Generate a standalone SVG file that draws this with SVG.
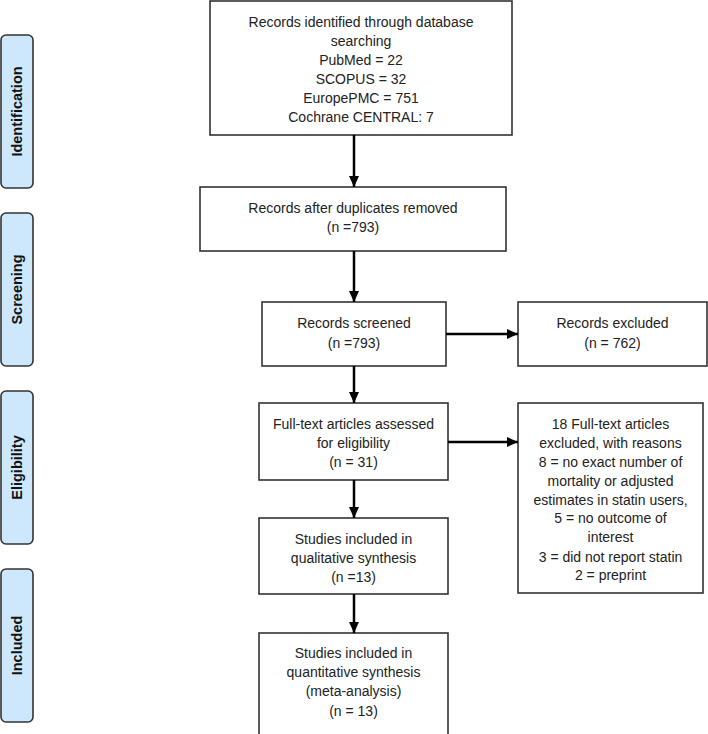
<svg xmlns="http://www.w3.org/2000/svg" width="708" height="734" viewBox="0 0 708 734">
<defs>
<style>
.box{fill:#fff;stroke:#333;stroke-width:1.6}
.phase{fill:#cde8fc;stroke:#333;stroke-width:1.6}
.t{font-family:"Liberation Sans",Arial,sans-serif;font-size:14px;fill:#222;text-anchor:middle}
.pt{font-family:"Liberation Sans",Arial,sans-serif;font-size:14.5px;font-weight:bold;fill:#111;text-anchor:middle}
.conn{stroke:#000;stroke-width:2.5;fill:none;marker-end:url(#ah)}
</style>
<marker id="ah" markerUnits="userSpaceOnUse" markerWidth="12" markerHeight="10" refX="11" refY="5" orient="auto">
<path d="M0,0 L11,5 L0,10 Z" fill="#000"/>
</marker>
</defs>
<rect width="708" height="734" fill="#fff"/>

<g id="phase-identification"><rect class="phase" x="1" y="35" width="32" height="153" rx="5"/><text class="pt" transform="translate(22,111.5) rotate(-90)">Identification</text></g>
<g id="phase-screening"><rect class="phase" x="1" y="213" width="32" height="153" rx="5"/><text class="pt" transform="translate(22,289.5) rotate(-90)">Screening</text></g>
<g id="phase-eligibility"><rect class="phase" x="1" y="391" width="32" height="153" rx="5"/><text class="pt" transform="translate(22,467.5) rotate(-90)">Eligibility</text></g>
<g id="phase-included"><rect class="phase" x="1" y="569" width="32" height="153" rx="5"/><text class="pt" transform="translate(22,645.5) rotate(-90)">Included</text></g>

<g id="identified"><rect class="box" x="210" y="1" width="302" height="134"/>
<text class="t" x="361" y="27">Records identified through database</text>
<text class="t" x="361" y="46">searching</text>
<text class="t" x="361" y="65">PubMed = 22</text>
<text class="t" x="361" y="84">SCOPUS = 32</text>
<text class="t" x="361" y="103">EuropePMC = 751</text>
<text class="t" x="361" y="122">Cochrane CENTRAL: 7</text></g>

<g id="duplicates"><rect class="box" x="200" y="187" width="306" height="64"/>
<text class="t" x="353" y="213">Records after duplicates removed</text>
<text class="t" x="353" y="232">(n =793)</text></g>

<g id="screened"><rect class="box" x="262" y="302" width="184" height="64"/>
<text class="t" x="354" y="328">Records screened</text>
<text class="t" x="354" y="348">(n =793)</text></g>

<g id="excluded"><rect class="box" x="518" y="302" width="189" height="64"/>
<text class="t" x="612.5" y="328">Records excluded</text>
<text class="t" x="612.5" y="348">(n = 762)</text></g>

<g id="fulltext"><rect class="box" x="259" y="403" width="189" height="77"/>
<text class="t" x="353.5" y="429">Full-text articles assessed</text>
<text class="t" x="353.5" y="448">for eligibility</text>
<text class="t" x="353.5" y="467">(n = 31)</text></g>

<g id="fulltext-excluded"><rect class="box" x="518" y="403" width="185" height="190"/>
<text class="t" x="610.5" y="429">18 Full-text articles</text>
<text class="t" x="610.5" y="448">excluded, with reasons</text>
<text class="t" x="610.5" y="467">8 = no exact number of</text>
<text class="t" x="610.5" y="486">mortality or adjusted</text>
<text class="t" x="610.5" y="505">estimates in statin users,</text>
<text class="t" x="610.5" y="523">5 = no outcome of</text>
<text class="t" x="610.5" y="542">interest</text>
<text class="t" x="610.5" y="562">3 = did not report statin</text>
<text class="t" x="610.5" y="580">2 = preprint</text></g>

<g id="qualitative"><rect class="box" x="259" y="518" width="189" height="76"/>
<text class="t" x="353.5" y="544">Studies included in</text>
<text class="t" x="353.5" y="563">qualitative synthesis</text>
<text class="t" x="353.5" y="582">(n =13)</text></g>

<g id="quantitative"><rect class="box" x="259" y="633" width="189" height="110"/>
<text class="t" x="353.5" y="658">Studies included in</text>
<text class="t" x="353.5" y="677">quantitative synthesis</text>
<text class="t" x="353.5" y="696">(meta-analysis)</text>
<text class="t" x="353.5" y="716">(n = 13)</text></g>

<g id="connectors">
<line class="conn" x1="354" y1="135" x2="354" y2="187"/>
<line class="conn" x1="354" y1="251" x2="354" y2="302"/>
<line class="conn" x1="354" y1="366" x2="354" y2="403"/>
<line class="conn" x1="354" y1="480" x2="354" y2="518"/>
<line class="conn" x1="354" y1="594" x2="354" y2="633"/>
<line class="conn" x1="446" y1="334" x2="518" y2="334"/>
<line class="conn" x1="448" y1="442" x2="518" y2="442"/>
</g>
</svg>
